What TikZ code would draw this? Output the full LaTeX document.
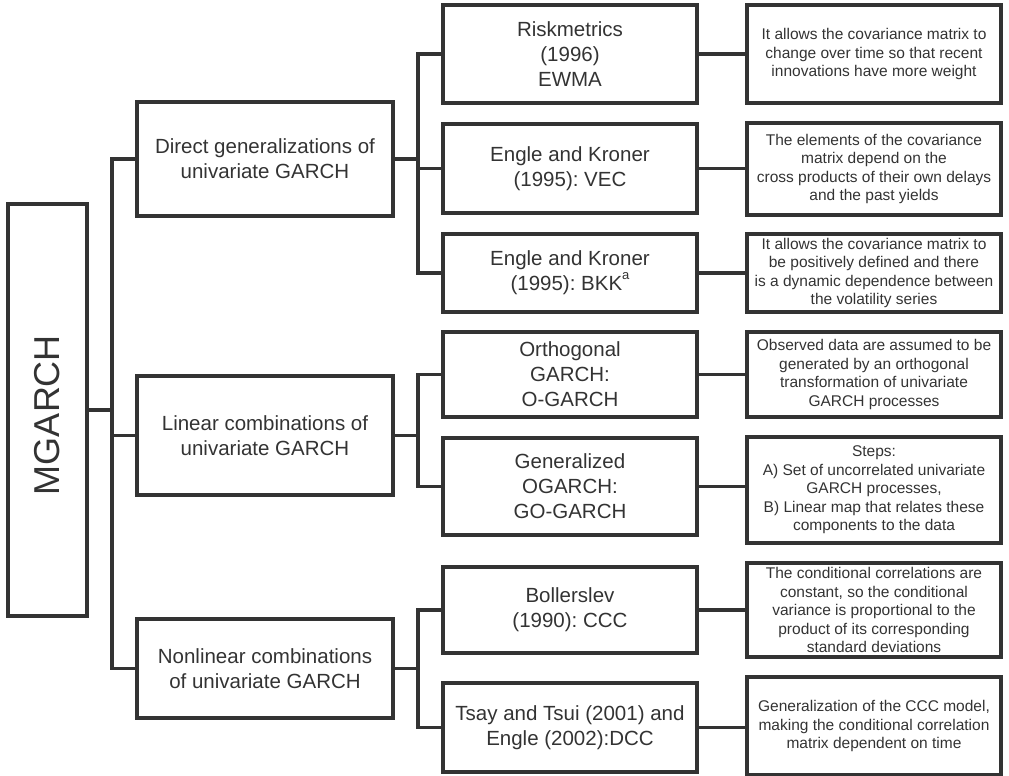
\documentclass[tikz,border=0pt]{standalone}
\usepackage{fontspec}
\setmainfont{Liberation Sans}
\definecolor{ln}{HTML}{333333}
\frenchspacing
\begin{document}
\begin{tikzpicture}[x=1pt,y=-1pt,
  box/.style={draw=ln, line width=3.2pt, text=ln, inner sep=0pt, align=center, line join=miter},
  lvA/.style={box, minimum width=256pt, font=\fontsize{20.5}{25}\selectfont},
  lvB/.style={box, minimum width=254pt, font=\fontsize{20.5}{25}\selectfont},
  lvC/.style={box, minimum width=254pt, font=\fontsize{15.5}{18.5}\selectfont},
  conn/.style={draw=ln, line width=3.2pt, line join=miter}]
\useasboundingbox (0,0) rectangle (1009,776);
% root
\node[box, minimum width=79pt, minimum height=412pt] (mg) at (47.5,410) {};
\node[text=ln, rotate=90, font=\fontsize{36}{40}\selectfont, inner sep=0pt] (mgt) at (47.5,415) {MGARCH};
% level 1
\node[lvA, minimum height=114pt] (d1) at (265,159) {Direct generalizations of\\univariate GARCH};
\node[lvA, minimum height=119pt] (l1) at (265,435.5) {Linear combinations of\\univariate GARCH};
\node[lvA, minimum height=99pt] (n1) at (265,668.5) {Nonlinear combinations\\of univariate GARCH};
% level 2
\node[lvB, minimum height=98pt] (r2) at (570,54) {Riskmetrics\\(1996)\\EWMA};
\node[lvB, minimum height=89pt] (v2) at (570,168.5) {Engle and Kroner\\(1995): VEC};
\node[lvB, minimum height=78pt] (b2) at (570,273) {Engle and Kroner\\(1995): BKK\raisebox{0.55em}{\fontsize{13}{13}\selectfont a}};
\node[lvB, minimum height=85pt] (o2) at (570,374.5) {Orthogonal\\GARCH:\\O-GARCH};
\node[lvB, minimum height=97pt] (g2) at (570,486.5) {Generalized\\OGARCH:\\GO-GARCH};
\node[lvB, minimum height=86pt] (c2) at (570,610) {Bollerslev\\(1990): CCC};
\node[lvB, minimum height=89pt] (t2) at (570,727.5) {Tsay and Tsui (2001) and\\Engle (2002):DCC};
% level 3
\node[lvC, minimum height=98pt] (r3) at (874,54) {It allows the covariance matrix to\\change over time so that recent\\innovations have more weight};
\node[lvC, minimum height=92pt] (v3) at (874,169) {The elements of the covariance\\matrix depend on the\\cross products of their own delays\\and the past yields};
\node[lvC, minimum height=78pt] (b3) at (874,273) {It allows the covariance matrix to\\be positively defined and there\\is a dynamic dependence between\\the volatility series};
\node[lvC, minimum height=85pt] (o3) at (874,374.5) {Observed data are assumed to be\\generated by an orthogonal\\transformation of univariate\\GARCH processes};
\node[lvC, minimum height=106pt] (g3) at (874,490) {Steps:\\A) Set of uncorrelated univariate\\GARCH processes,\\B) Linear map that relates these\\components to the data};
\node[lvC, minimum height=94pt] (c3) at (874,610) {The conditional correlations are\\constant, so the conditional\\variance is proportional to the\\product of its corresponding\\standard deviations};
\node[lvC, minimum height=98pt] (t3) at (874,726) {Generalization of the CCC model,\\making the conditional correlation\\matrix dependent on time};
% trunks
\coordinate (tA) at (112,0);
\coordinate (tB) at (418,0);
\draw[conn] (mg.east) -- (mg.east -| tA);
\draw[conn] (d1.west) -- (d1.west -| tA) -- (n1.west -| tA) -- (n1.west);
\draw[conn] (l1.west) -- (l1.west -| tA);
% group 1
\draw[conn] (d1.east) -- (d1.east -| tB);
\draw[conn] (r2.west) -- (r2.west -| tB) -- (b2.west -| tB) -- (b2.west);
\draw[conn] (v2.west) -- (v2.west -| tB);
% group 2
\draw[conn] (l1.east) -- (l1.east -| tB);
\draw[conn] (o2.west) -- (o2.west -| tB) -- (g2.west -| tB) -- (g2.west);
% group 3
\draw[conn] (n1.east) -- (n1.east -| tB);
\draw[conn] (c2.west) -- (c2.west -| tB) -- (t2.west -| tB) -- (t2.west);
% level 2 to level 3
\foreach \a/\b in {r2/r3, v2/v3, b2/b3, o2/o3, g2/g3, c2/c3, t2/t3}
  \draw[conn] (\a.east) -- (\a.east -| \b.west);
\end{tikzpicture}
\end{document}
